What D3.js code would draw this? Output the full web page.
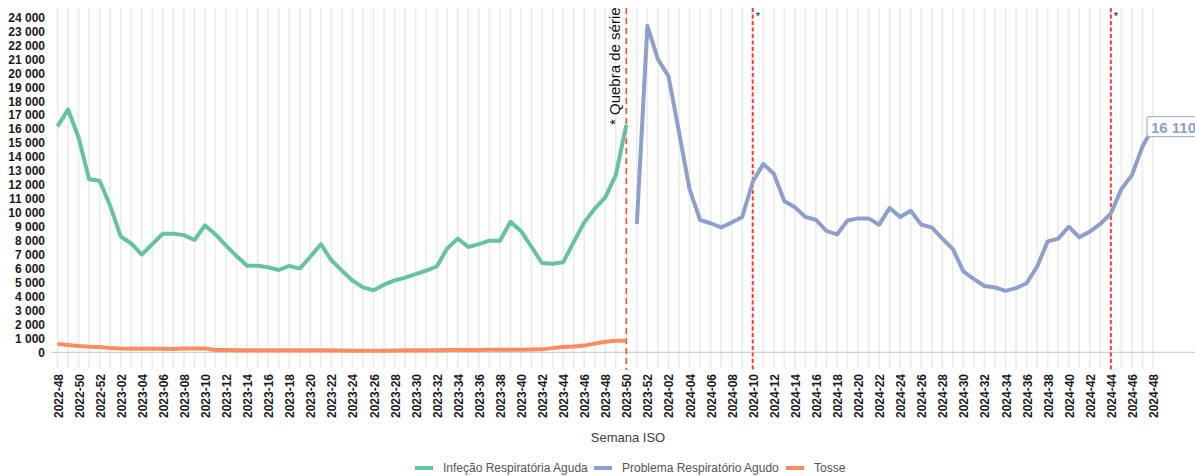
<!DOCTYPE html>
<html><head><meta charset="utf-8">
<script src="https://cdn.jsdelivr.net/npm/d3@7"></script>
<style>
html,body{margin:0;padding:0;background:#fff;overflow:hidden}
svg{display:block;font-family:"Liberation Sans",Arial,sans-serif}
</style></head>
<body><svg id="c" width="1195" height="476"></svg>
<script>
const categories = [
"2022-48","2022-49","2022-50","2022-51","2022-52",
"2023-01","2023-02","2023-03","2023-04","2023-05","2023-06","2023-07","2023-08","2023-09","2023-10",
"2023-11","2023-12","2023-13","2023-14","2023-15","2023-16","2023-17","2023-18","2023-19","2023-20",
"2023-21","2023-22","2023-23","2023-24","2023-25","2023-26","2023-27","2023-28","2023-29","2023-30",
"2023-31","2023-32","2023-33","2023-34","2023-35","2023-36","2023-37","2023-38","2023-39","2023-40",
"2023-41","2023-42","2023-43","2023-44","2023-45","2023-46","2023-47","2023-48","2023-49","2023-50",
"2023-51","2023-52",
"2024-01","2024-02","2024-03","2024-04","2024-05","2024-06","2024-07","2024-08","2024-09","2024-10",
"2024-11","2024-12","2024-13","2024-14","2024-15","2024-16","2024-17","2024-18","2024-19","2024-20",
"2024-21","2024-22","2024-23","2024-24","2024-25","2024-26","2024-27","2024-28","2024-29","2024-30",
"2024-31","2024-32","2024-33","2024-34","2024-35","2024-36","2024-37","2024-38","2024-39","2024-40",
"2024-41","2024-42","2024-43","2024-44","2024-45","2024-46","2024-47","2024-48"];

// Infeção Respiratória Aguda: 2022-48 .. 2023-50
const iraStart = "2022-48";
const iraValues = [16200,17400,15400,12400,12300,10500,8300,7800,7000,7750,
 8500,8500,8400,8050,9100,8450,7650,6900,6200,6200,
 6100,5900,6200,6000,6850,7750,6600,5850,5150,4650,
 4450,4850,5150,5350,5600,5850,6150,7450,8150,7550,
 7750,8000,8000,9350,8700,7550,6400,6350,6450,7900,
 9300,10300,11100,12700,16300];

// Problema Respiratório Agudo: 2023-51 .. 2024-48
const praStart = "2023-51";
const praValues = [9200,23400,21000,19800,15800,11700,9500,9250,8950,9300,
 9700,12200,13500,12800,10850,10400,9700,9500,8700,8450,
 9450,9600,9600,9150,10350,9700,10150,9150,8950,8150,
 7400,5800,5250,4750,4650,4400,4600,4950,6150,7950,
 8150,9000,8250,8650,9200,9950,11700,12700,14750,16110];

// Tosse: 2022-48 .. 2023-50
const tosseStart = "2022-48";
const tosseValues = [600,520,450,400,380,300,270,260,250,250,
 260,230,270,280,280,170,160,150,150,150,
 150,150,140,140,150,150,140,130,120,120,
 120,120,130,140,140,150,150,160,160,170,
 170,180,180,180,190,200,210,300,380,420,
 480,620,760,830,820];

const yTicks = d3.range(0, 24001, 1000);
const seriesNames = ["Infeção Respiratória Aguda","Problema Respiratório Agudo","Tosse"];
const seriesColors = ["#66c2a5","#8da0cb","#fc8d62"];
const breakWeek = "2023-50";
const markWeeks = ["2024-10","2024-44"];
const breakLabel = "* Quebra de série";
const lastLabel = "16 110";
const xTitle = "Semana ISO";

const svg = d3.select("#c");
const x = d3.scalePoint().domain(categories).range([57.5, 1153]);
const y = d3.scaleLinear().domain([0, 24000]).range([352.3, 17.5]);
const fmt = v => d3.format(",")(v).replace(/,/g, " ");

// vertical grid
svg.append("g").selectAll("line").data(categories).join("line")
  .attr("x1", d => x(d)).attr("x2", d => x(d))
  .attr("y1", 8).attr("y2", 368)
  .attr("stroke", "#ebebeb").attr("stroke-width", 1.6);

// baseline
svg.append("line").attr("x1", 51).attr("x2", 1195)
  .attr("y1", y(0)).attr("y2", y(0)).attr("stroke", "#d0d0d0").attr("stroke-width", 1.3);

// y axis labels
const yAxis = d3.axisLeft(y).tickValues(yTicks).tickFormat(fmt).tickSize(0).tickPadding(0);
const gy = svg.append("g").attr("transform", "translate(45,0)").call(yAxis);
gy.select(".domain").remove();
gy.selectAll("text").attr("font-size", 12).attr("font-weight", "bold")
  .attr("fill", "#1a1a1a").attr("font-family", "Liberation Sans, Arial, sans-serif");

// x axis labels
const xAxis = d3.axisBottom(x).tickValues(categories.filter((d, i) => i % 2 === 0)).tickSize(0).tickPadding(0);
const gx = svg.append("g").attr("transform", "translate(0,374)").call(xAxis);
gx.select(".domain").remove();
gx.selectAll("text").attr("font-size", 12).attr("font-weight", "bold")
  .attr("fill", "#1a1a1a").attr("font-family", "Liberation Sans, Arial, sans-serif")
  .attr("text-anchor", "end").attr("dy", null).attr("y", 0).attr("x", 0)
  .attr("transform", "rotate(-90) translate(0,4.5)");

// x title
svg.append("text").attr("x", 628).attr("y", 442).attr("text-anchor", "middle")
  .attr("font-size", 13).attr("fill", "#404040").text(xTitle);

function toPoints(start, values) {
  const s = categories.indexOf(start);
  return values.map((v, i) => [categories[s + i], v]);
}
const line = d3.line().x(d => x(d[0])).y(d => y(d[1]));
const series = [toPoints(iraStart, iraValues), toPoints(praStart, praValues), toPoints(tosseStart, tosseValues)];

// marker lines
svg.append("line").attr("x1", x(breakWeek)).attr("x2", x(breakWeek)).attr("y1", 8).attr("y2", 370)
  .attr("stroke", "#ff4d1a").attr("stroke-width", 1.6).attr("stroke-dasharray", "6,4");
markWeeks.forEach(w => {
  svg.append("line").attr("x1", x(w)).attr("x2", x(w)).attr("y1", 8).attr("y2", 370)
    .attr("stroke", "#ff3a3a").attr("stroke-width", 2).attr("stroke-dasharray", "4,2.5");
  svg.append("text").attr("x", x(w) + 3).attr("y", 20).attr("font-size", 11).attr("fill", "#111").text("*");
});

// series lines
series.forEach((pts, i) => {
  svg.append("path").datum(pts).attr("d", line).attr("fill", "none")
    .attr("stroke", seriesColors[i]).attr("stroke-width", 4).attr("stroke-linejoin", "round");
});

// break label
svg.append("text").attr("transform", `translate(${x(breakWeek) - 6},125) rotate(-90)`)
  .attr("font-size", 15).attr("fill", "#111").text(breakLabel);

// last value label
const lastPt = series[1][series[1].length - 1];
const lx = x(lastPt[0]) - 6, ly = y(lastPt[1]);
svg.append("rect").attr("x", lx).attr("y", ly - 11).attr("width", 60).attr("height", 20)
  .attr("rx", 2).attr("fill", "#fff").attr("stroke", "#a9b6d9").attr("stroke-width", 1.3);
svg.append("text").attr("x", lx + 4).attr("y", ly + 5).attr("font-size", 15).attr("font-weight", "bold")
  .attr("fill", "#8da0cb").text(lastLabel);

// legend
const legendX = [415, 594, 786];
seriesNames.forEach((n, i) => {
  svg.append("rect").attr("x", legendX[i]).attr("y", 466).attr("width", 18).attr("height", 4)
    .attr("fill", seriesColors[i]);
  svg.append("text").attr("x", legendX[i] + 28).attr("y", 472).attr("font-size", 12)
    .attr("fill", "#555").text(n);
});
</script></body></html>
